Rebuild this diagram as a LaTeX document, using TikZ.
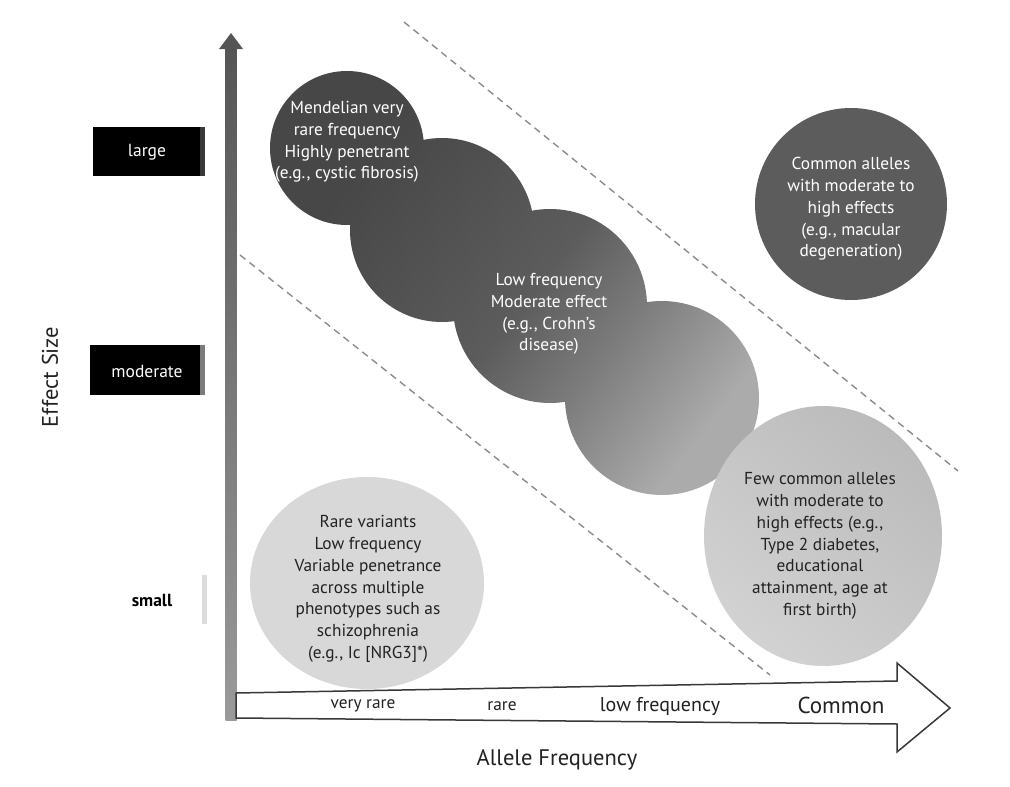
\documentclass[tikz,border=0pt]{standalone}
\usepackage{fontspec}
\setmainfont{PT Sans}
\usetikzlibrary{calc}
\definecolor{cg1}{HTML}{474747}
\definecolor{cg2}{HTML}{5C5C5C}
\definecolor{cg3}{HTML}{7C7C7C}
\definecolor{cg4}{HTML}{ABABAB}
\definecolor{dashc}{HTML}{8C8C8C}
\definecolor{darkc}{HTML}{5C5C5C}
\definecolor{lightc}{HTML}{D8D8D8}
\definecolor{eA}{HTML}{BBBBBB}
\definecolor{eB}{HTML}{D2D2D2}
\definecolor{txtd}{HTML}{222222}
\definecolor{axtop}{HTML}{555555}
\definecolor{axbot}{HTML}{9A9A9A}
\pgfdeclarehorizontalshading{chainshade}{100bp}{color(0bp)=(cg1); color(30bp)=(cg1); color(52bp)=(cg2); color(62bp)=(cg3); color(75bp)=(cg4); color(100bp)=(cg4)}
\begin{document}
\begin{tikzpicture}[x=1pt,y=-1pt,
  dashline/.style={dashc, line width=1.4pt, dash pattern=on 7pt off 5pt},
  whitetext/.style={align=center, text=white, font=\fontsize{17.3}{21.8}\selectfont},
  darktext/.style={align=center, text=txtd, font=\fontsize{17.3}{21.8}\selectfont},
  levelbox/.style={fill=black, draw=none},
  levellabel/.style={font=\fontsize{17.5}{20}\selectfont},
  axislabel/.style={text=txtd, font=\fontsize{22.5}{26}\selectfont},
  ticklabel/.style={text=txtd, font=\fontsize{17.3}{19}\selectfont}]
\useasboundingbox (0,0) rectangle (1010,787);
\fill[white] (0,0) rectangle (1010,787);

% dashed guide lines
\coordinate (u1) at (404,22);
\coordinate (u2) at (958,471);
\coordinate (l1) at (240,255);
\coordinate (l2) at (770,675);
\draw[dashline] (u1) -- (u2);
\draw[dashline] (l1) -- (l2);

% chain of circles
\coordinate (cA) at (347,148);
\coordinate (cB) at (442,230);
\coordinate (cC) at (550,306);
\coordinate (cD) at (662,398);
\begin{scope}
  \clip (cA) circle [radius=77pt] (cB) circle [radius=92pt] (cC) circle [radius=97pt] (cD) circle [radius=97pt];
  \shade[shading=chainshade, shading angle=-38] (260,60) rectangle (770,505);
\end{scope}

% other circles
\coordinate (cE) at (823,536);
\coordinate (cF) at (851,204);
\coordinate (cG) at (367,583);
\shade[left color=eA, right color=eB, shading angle=-40] (cE) ellipse [x radius=119pt, y radius=130pt];
\fill[darkc] (cF) circle [radius=96pt];
\fill[lightc] (cG) ellipse [x radius=117pt, y radius=106pt];

% circle texts
\node[whitetext] (tA) at (347,142) {Mendelian very\\rare frequency\\Highly penetrant\\(e.g., cystic fibrosis)};
\node[whitetext] (tC) at (549,314) {Low frequency\\Moderate effect\\(e.g., Crohn’s\\disease)};
\node[whitetext] (tF) at (851,209) {Common alleles\\with moderate to\\high effects\\(e.g., macular\\degeneration)};
\node[darktext] (tE) at (820,546) {Few common alleles\\with moderate to\\high effects (e.g.,\\Type 2 diabetes,\\educational\\attainment, age at\\first birth)};
\node[darktext] (tG) at (368,589) {Rare variants\\Low frequency\\Variable penetrance\\across multiple\\phenotypes such as\\schizophrenia\\(e.g., Ic [NRG3]*)};

% vertical axis
\coordinate (vb) at (231,720);
\coordinate (vt) at (231,33);
\shade[top color=axtop, bottom color=axbot] (225.5,48) rectangle (236.5,720);
\fill[axtop] (vt) -- (243,49) -- (219,49) -- cycle;

% horizontal axis (hollow arrow)
\coordinate (h1) at (236,693);
\coordinate (h2) at (897,681);
\coordinate (h3) at (897,663);
\coordinate (htip) at (950,708);
\coordinate (h5) at (897,752);
\coordinate (h6) at (897,724);
\coordinate (h7) at (236,718);
\draw[fill=white, draw=txtd!90, line width=1.5pt, line join=miter] (h1) -- (h2) -- (h3) -- (htip) -- (h5) -- (h6) -- (h7) -- cycle;

\node[ticklabel] (f1) at (363,706) {very rare};
\node[ticklabel] (f2) at (502,706) {rare};
\node[text=txtd, font=\fontsize{20}{22}\selectfont] (f3) at (660,706) {low frequency};
\node[text=txtd, font=\fontsize{23}{25}\selectfont] (f4) at (841,705) {Common};
\node[axislabel] (xl) at (557,760) {Allele Frequency};
\node[axislabel, rotate=90] (yl) at (50,377) {Effect Size};

% effect size levels
\fill[levelbox] (93,127) rectangle (200,176);
\fill[cg1!80!black] (200,127) rectangle (205,176);
\node[levellabel, text=white] (large) at (147,152) {large};
\fill[levelbox] (90,345) rectangle (200,395);
\fill[cg3] (200,345) rectangle (205,395);
\node[levellabel, text=white] (moderate) at (147,371) {moderate};
\fill[lightc!90!white] (202,575) rectangle (207,624);
\node[text=black, font=\bfseries\fontsize{17.5}{20}\selectfont] (small) at (152,600) {small};
\end{tikzpicture}
\end{document}
